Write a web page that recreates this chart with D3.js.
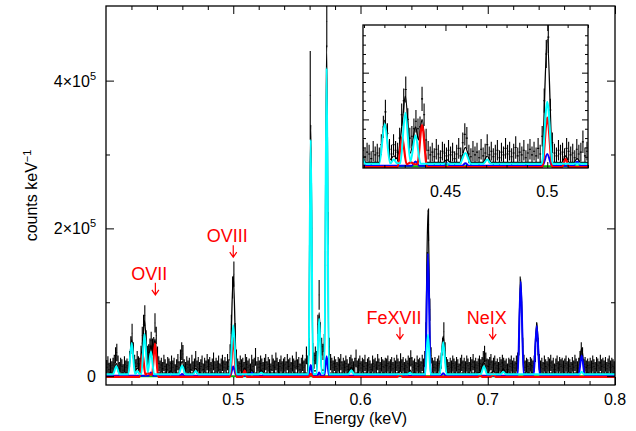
<!DOCTYPE html>
<html>
<head>
<meta charset="utf-8">
<script src="https://cdnjs.cloudflare.com/ajax/libs/d3/7.8.5/d3.min.js"></script>
<style>
  body { margin: 0; background: #fff; }
  svg { display: block; font-family: "Liberation Sans", Arial, sans-serif; }
</style>
</head>
<body>
<div id="chart"></div>
<script>
// observed spectrum: 0.001 keV bins from 0.400 keV, values in 1e3 counts/keV
const binStart = 0.400;
const binWidth = 0.001;
const obsCounts = [
  12, 16, 9, 14, 11, 15, 18, 28, 32, 17, 10, 15, 13, 8, 16, 12, 14, 11, 23, 42,
  58, 35, 18, 13, 23, 17, 15, 30, 55, 70, 82, 50, 30, 32, 40, 48, 40, 42, 72, 55,
  28, 17, 12, 15, 10, 18, 13, 9, 16, 14, 11, 17, 12, 15, 8, 13, 19, 11, 25, 34,
  30, 13, 10, 16, 12, 15, 9, 18, 11, 14, 23, 12, 16, 10, 13, 17, 9, 15, 12, 19,
  13, 16, 10, 14, 20, 11, 15, 12, 17, 9, 14, 18, 12, 16, 11, 19, 13, 32, 70, 120,
  138, 60, 25, 14, 11, 17, 13, 15, 10, 19, 16, 12, 14, 9, 18, 13, 15, 26, 11, 16,
  12, 17, 14, 10, 15, 19, 11, 16, 13, 9, 18, 14, 12, 20, 15, 10, 13, 17, 11, 14,
  16, 11, 19, 13, 15, 10, 17, 14, 12, 21, 13, 16, 9, 15, 18, 12, 14, 28, 17, 40,
  380, 200, 33, 21, 28, 23, 70, 110, 60, 40, 33, 45, 150, 480, 200, 40, 19, 15, 12, 17,
  13, 10, 16, 14, 19, 11, 15, 12, 17, 13, 9, 16, 18, 14, 11, 15, 24, 12, 14, 17,
  11, 15, 13, 18, 10, 14, 16, 12, 9, 17, 13, 15, 11, 19, 14, 10, 16, 13, 12, 15,
  14, 17, 11, 13, 16, 10, 15, 12, 18, 14, 11, 19, 13, 16, 10, 14, 12, 17, 15, 24,
  16, 12, 14, 10, 17, 13, 15, 11, 18, 14, 23, 60, 150, 205, 90, 28, 15, 12, 16, 11,
  14, 17, 12, 21, 40, 60, 35, 16, 13, 10, 15, 12, 17, 14, 11, 16, 13, 9, 15, 18,
  12, 15, 11, 17, 14, 10, 16, 13, 19, 12, 15, 11, 14, 17, 13, 16, 23, 30, 21, 14,
  13, 16, 19, 12, 15, 17, 11, 14, 10, 16, 13, 18, 15, 12, 14, 9, 15, 13, 17, 12,
  15, 11, 17, 21, 40, 118, 100, 40, 18, 12, 15, 13, 10, 16, 14, 12, 17, 30, 60, 40,
  19, 12, 15, 10, 17, 13, 11, 16, 14, 18, 12, 15, 9, 14, 17, 11, 16, 13, 15, 12,
  14, 17, 11, 15, 13, 10, 16, 12, 18, 14, 11, 15, 23, 35, 28, 13, 16, 12, 14, 11,
  15, 12, 17, 13, 10, 16, 14, 11, 18, 13, 15, 12, 16, 10, 14, 17, 12, 15, 13, 11
];
const obsErr = [
  10, 11, 9, 10, 9, 10, 11, 11, 12, 11, 9, 10, 10, 8, 11, 9, 10, 9, 11, 12,
  13, 11, 11, 10, 11, 10, 10, 11, 12, 13, 14, 12, 11, 11, 11, 12, 11, 11, 13, 12,
  12, 10, 9, 10, 9, 11, 10, 8, 10, 10, 9, 11, 9, 10, 8, 10, 11, 9, 11, 12,
  12, 10, 9, 11, 9, 10, 8, 11, 9, 10, 11, 9, 10, 9, 10, 11, 8, 10, 9, 11,
  10, 10, 9, 10, 12, 9, 10, 9, 11, 8, 10, 11, 9, 10, 9, 11, 10, 11, 13, 15,
  17, 12, 11, 10, 9, 11, 10, 10, 9, 11, 10, 9, 10, 8, 11, 10, 10, 12, 9, 10,
  9, 11, 10, 9, 10, 11, 9, 10, 10, 8, 11, 10, 9, 12, 10, 9, 10, 11, 9, 10,
  10, 9, 11, 10, 10, 9, 11, 10, 9, 12, 10, 10, 8, 10, 11, 9, 10, 12, 11, 12,
  60, 25, 12, 11, 12, 11, 13, 20, 13, 12, 11, 12, 20, 35, 22, 12, 11, 10, 9, 10,
  10, 9, 10, 10, 11, 9, 10, 9, 11, 10, 8, 10, 11, 10, 9, 10, 12, 9, 10, 11,
  9, 10, 10, 11, 9, 10, 10, 9, 8, 11, 10, 10, 9, 11, 10, 9, 10, 10, 9, 10,
  10, 11, 9, 10, 10, 9, 10, 9, 11, 10, 9, 12, 10, 10, 9, 10, 9, 11, 10, 11,
  10, 9, 10, 9, 11, 10, 10, 9, 11, 10, 11, 13, 18, 22, 15, 11, 10, 9, 10, 9,
  10, 11, 9, 11, 12, 13, 11, 10, 10, 9, 10, 9, 11, 10, 9, 10, 10, 8, 10, 11,
  9, 10, 9, 11, 10, 9, 10, 10, 11, 9, 10, 9, 10, 11, 10, 10, 11, 11, 11, 10,
  10, 10, 11, 9, 10, 11, 9, 10, 9, 10, 10, 11, 10, 9, 10, 8, 10, 10, 11, 9,
  10, 9, 11, 11, 12, 17, 15, 12, 11, 9, 10, 10, 9, 10, 10, 9, 11, 11, 13, 12,
  11, 9, 10, 9, 11, 10, 9, 10, 10, 11, 9, 10, 8, 10, 11, 9, 10, 10, 10, 9,
  10, 11, 9, 10, 10, 9, 10, 9, 11, 10, 9, 10, 11, 11, 11, 10, 10, 9, 10, 9,
  10, 9, 11, 10, 9, 10, 10, 9, 11, 10, 10, 9, 10, 9, 10, 11, 9, 10, 10, 9
];

// model components [energy keV, 1e3 counts/keV]
const modelTotal = [
  [0.400, 4], [0.4055, 4], [0.4081, 17], [0.4107, 4], [0.4175, 4], [0.4202, 49], [0.4228, 7],
  [0.4247, 11], [0.4262, 8], [0.4287, 45], [0.4303, 75], [0.4328, 14], [0.4353, 42], [0.4368, 28],
  [0.4385, 50], [0.4410, 4], [0.4490, 4], [0.4507, 7], [0.4524, 4], [0.4570, 4], [0.4598, 20],
  [0.4625, 4], [0.4685, 4], [0.4705, 11], [0.4725, 4], [0.4973, 4], [0.5000, 136], [0.5027, 4],
  [0.5072, 4], [0.5090, 11], [0.5108, 4], [0.5130, 4], [0.5147, 8], [0.5164, 4], [0.5200, 4],
  [0.5220, 8], [0.5240, 4], [0.5591, 4], [0.5609, 340], [0.5627, 7], [0.5655, 7], [0.5675, 86],
  [0.5695, 8], [0.5716, 8], [0.5734, 448], [0.5752, 4], [0.5905, 4], [0.5928, 12], [0.5951, 4],
  [0.6290, 4], [0.6310, 7], [0.6330, 4], [0.6372, 4], [0.6389, 8], [0.6406, 4], [0.6508, 4],
  [0.6530, 225], [0.6552, 4], [0.6623, 4], [0.6650, 54], [0.6677, 4], [0.6920, 4], [0.6940, 6],
  [0.6970, 19], [0.6995, 4], [0.7025, 4], [0.7044, 7], [0.7063, 4], [0.7102, 4], [0.7122, 10],
  [0.7142, 4], [0.7235, 4], [0.7259, 132], [0.7283, 4], [0.7360, 4], [0.7385, 72], [0.7410, 4],
  [0.7713, 4], [0.7738, 38], [0.7763, 4], [0.800, 4]
];
const modelGreen = [[0.400, 0], [0.800, 0]];
const modelBlue = [
  [0.400, 0.5], [0.4335, 0.5], [0.4353, 5], [0.4371, 0.5], [0.4490, 0.5], [0.4507, 3], [0.4524, 0.5],
  [0.4582, 0.5], [0.4598, 3], [0.4614, 0.5], [0.4977, 0.5], [0.5000, 13], [0.5023, 0.5],
  [0.5130, 0.5], [0.5147, 4.6], [0.5164, 0.5], [0.5591, 0.5], [0.5609, 15], [0.5627, 0.5],
  [0.5660, 0.5], [0.5675, 5], [0.5690, 0.5], [0.5716, 0.5], [0.5734, 27], [0.5752, 0.5],
  [0.6508, 0.5], [0.6530, 166], [0.6552, 0.5], [0.6630, 0.5], [0.6650, 4], [0.6670, 0.5],
  [0.7235, 0.5], [0.7259, 128], [0.7283, 0.5], [0.7360, 0.5], [0.7385, 68], [0.7410, 0.5],
  [0.7713, 0.5], [0.7738, 28], [0.7763, 0.5], [0.800, 0.5]
];
const modelRed = [
  [0.400, -1], [0.4265, -1], [0.4287, 31], [0.4309, 2], [0.4330, 4], [0.4350, 2], [0.4362, 2],
  [0.4385, 44], [0.4410, -1], [0.4975, -1], [0.5000, 52], [0.5025, -1], [0.5072, -1], [0.5090, 7.5],
  [0.5108, -1], [0.5592, -1], [0.5610, 3], [0.5628, -1], [0.6290, -1], [0.6310, 3], [0.6330, -1],
  [0.6925, -1], [0.6940, 2], [0.6955, -1], [0.7025, -1], [0.7044, 3], [0.7063, -1], [0.800, -1]
];
const modelCyan = [
  [0.400, 2.5], [0.4055, 2.5], [0.4081, 13.5], [0.4107, 2.5], [0.4175, 2.5], [0.4202, 45], [0.4228, 3],
  [0.4247, 7], [0.4262, 3], [0.4278, 3], [0.4303, 57], [0.4328, 5], [0.4353, 33], [0.4378, 2.5],
  [0.4570, 2.5], [0.4598, 14], [0.4625, 2.5], [0.4685, 2.5], [0.4705, 7], [0.4725, 2.5], [0.4973, 2.5],
  [0.5000, 69], [0.5027, 2.5], [0.5200, 2.5], [0.5220, 4.5], [0.5240, 2.5], [0.5591, 2.5], [0.5609, 320],
  [0.5627, 3], [0.5655, 3], [0.5675, 78], [0.5695, 4], [0.5716, 4], [0.5734, 417], [0.5752, 2.5],
  [0.5905, 2.5], [0.5928, 8], [0.5951, 2.5], [0.6372, 2.5], [0.6389, 4.5], [0.6406, 2.5], [0.6508, 2.5],
  [0.6530, 56], [0.6552, 2.5], [0.6623, 2.5], [0.6650, 46], [0.6677, 2.5], [0.6945, 2.5], [0.6970, 13.5],
  [0.6995, 2.5], [0.7102, 2.5], [0.7122, 6], [0.7142, 2.5], [0.7720, 2.5], [0.7738, 6], [0.7756, 2.5],
  [0.800, 2.5]
];

// line identifications
const lineLabels = ["OVII", "OVIII", "FeXVII", "NeIX"];
const lineEnergies = [0.4388, 0.5000, 0.6310, 0.7039];
const lineArrowTips = [110, 161, 50, 50];

// ticks
const xMajorTicks = [0.5, 0.6, 0.7, 0.8];
const xMinorTicks = [0.42, 0.44, 0.46, 0.48, 0.52, 0.54, 0.56, 0.58, 0.62, 0.64, 0.66, 0.68, 0.72, 0.74, 0.76, 0.78];
const yMajorTicks = [0, 200, 400];
const yMinorTicks = [100, 300];
const yTickLabels = [["0", ""], ["2×10", "5"], ["4×10", "5"]];
const insetXMajorTicks = [0.45, 0.5];
const insetXMinorTicks = [0.41, 0.42, 0.43, 0.44, 0.46, 0.47, 0.48, 0.49, 0.51, 0.52];
const insetYMajorTicks = [50, 100];
const insetYMinorTicks = [10, 20, 30, 40, 60, 70, 80, 90, 110, 120, 130, 140];

const svg = d3.select("#chart").append("svg")
  .attr("width", 636)
  .attr("height", 431);

const mainBox = { left: 106, right: 615, top: 6, bottom: 385 };
const insetBox = { left: 363, right: 588, top: 25, bottom: 168 };

const x = d3.scaleLinear().domain([0.4, 0.8]).range([mainBox.left, mainBox.right]);
const y = d3.scaleLinear().domain([-12, 501]).range([mainBox.bottom, mainBox.top]);
const xi = d3.scaleLinear().domain([0.4095, 0.5200]).range([insetBox.left, insetBox.right]);
const yi = d3.scaleLinear().domain([-2, 151]).range([insetBox.bottom, insetBox.top]);

const defs = svg.append("defs");
[["clipMain", mainBox], ["clipInset", insetBox]].forEach(([id, b]) => {
  defs.append("clipPath").attr("id", id).append("rect")
    .attr("x", b.left).attr("y", b.top)
    .attr("width", b.right - b.left).attr("height", b.bottom - b.top);
});

// data error bars + model curves
function drawSpectrum(g, xs, ys, clipId) {
  const layer = g.append("g").attr("clip-path", `url(#${clipId})`);
  let d = "";
  obsCounts.forEach((v, i) => {
    const e0 = binStart + i * binWidth;
    const e1 = e0 + binWidth;
    const ec = e0 + binWidth / 2;
    d += `M${xs(e0)},${ys(v)}H${xs(e1)}M${xs(ec)},${ys(v - obsErr[i])}V${ys(v + obsErr[i])}`;
  });
  layer.append("path")
    .attr("d", d)
    .attr("fill", "none")
    .attr("stroke", "#000")
    .attr("stroke-width", 1.1);

  const line = d3.line()
    .x(p => xs(p[0]))
    .y(p => ys(p[1]))
    .curve(d3.curveMonotoneX);

  const comps = [
    [modelTotal, "#000", 1.3],
    [modelGreen, "#00c000", 2],
    [modelBlue, "#0000ff", 2],
    [modelRed, "#ff0000", 2.2],
    [modelCyan, "#00ffff", 2]
  ];
  comps.forEach(([pts, color, w]) => {
    layer.append("path")
      .datum(pts)
      .attr("d", line)
      .attr("fill", "none")
      .attr("stroke", color)
      .attr("stroke-width", w)
      .attr("stroke-linejoin", "round");
  });
}

// mirrored inward ticks on all four sides
function drawTicks(g, xs, ys, box, xMaj, xMin, yMaj, yMin, lMaj, lMin) {
  const sets = [
    [d3.axisBottom(xs), `translate(0,${box.bottom})`, xMaj, lMaj],
    [d3.axisBottom(xs), `translate(0,${box.bottom})`, xMin, lMin],
    [d3.axisTop(xs), `translate(0,${box.top})`, xMaj, lMaj],
    [d3.axisTop(xs), `translate(0,${box.top})`, xMin, lMin],
    [d3.axisLeft(ys), `translate(${box.left},0)`, yMaj, lMaj],
    [d3.axisLeft(ys), `translate(${box.left},0)`, yMin, lMin],
    [d3.axisRight(ys), `translate(${box.right},0)`, yMaj, lMaj],
    [d3.axisRight(ys), `translate(${box.right},0)`, yMin, lMin]
  ];
  sets.forEach(([axis, tr, vals, len]) => {
    const a = g.append("g")
      .attr("transform", tr)
      .call(axis.tickValues(vals).tickSize(-len).tickFormat(""));
    a.select(".domain").remove();
    a.selectAll("line").attr("stroke", "#000").attr("stroke-width", 1);
  });
}

function drawTickLabels(g, xs, box, vals, pad, fmt) {
  g.selectAll(null)
    .data(vals)
    .enter().append("text")
    .attr("x", d => xs(d))
    .attr("y", box.bottom + pad + 11.5)
    .attr("text-anchor", "middle")
    .attr("font-size", 16)
    .text(fmt);
}

// ---- main panel ----
const mainG = svg.append("g");
drawSpectrum(mainG, x, y, "clipMain");
drawTicks(mainG, x, y, mainBox, xMajorTicks, xMinorTicks, yMajorTicks, yMinorTicks, 8, 4);
drawTickLabels(mainG, x, mainBox, xMajorTicks, 8, d3.format(".1f"));

yMajorTicks.forEach((v, i) => {
  const t = mainG.append("text")
    .attr("x", mainBox.left - 10)
    .attr("y", y(v) + 6)
    .attr("text-anchor", "end")
    .attr("font-size", 16)
    .text(yTickLabels[i][0]);
  if (yTickLabels[i][1]) {
    t.append("tspan")
      .attr("dy", -7)
      .attr("font-size", 11)
      .text(yTickLabels[i][1]);
  }
});

mainG.append("rect")
  .attr("x", mainBox.left).attr("y", mainBox.top)
  .attr("width", mainBox.right - mainBox.left)
  .attr("height", mainBox.bottom - mainBox.top)
  .attr("fill", "none")
  .attr("stroke", "#000")
  .attr("stroke-width", 1.3);

// axis titles
svg.append("text")
  .attr("x", (mainBox.left + mainBox.right) / 2)
  .attr("y", 424)
  .attr("text-anchor", "middle")
  .attr("font-size", 16)
  .text("Energy (keV)");

const yTitle = svg.append("text")
  .attr("transform", `translate(37,${(mainBox.top + mainBox.bottom) / 2}) rotate(-90)`)
  .attr("text-anchor", "middle")
  .attr("font-size", 16)
  .text("counts keV");
yTitle.append("tspan").attr("dy", -6).attr("font-size", 11).text("−1");

// line identifications
lineLabels.forEach((name, i) => {
  const ax = x(lineEnergies[i]);
  const tip = y(lineArrowTips[i]);
  svg.append("text")
    .attr("x", ax - 6)
    .attr("y", tip - 15)
    .attr("text-anchor", "middle")
    .attr("font-size", 18)
    .attr("fill", "#ff0000")
    .text(name);
  svg.append("path")
    .attr("d", `M${ax},${tip - 12}V${tip}M${ax - 3.5},${tip - 5}L${ax},${tip}L${ax + 3.5},${tip - 5}`)
    .attr("fill", "none")
    .attr("stroke", "#ff0000")
    .attr("stroke-width", 1.2);
});

// ---- inset panel ----
const insetG = svg.append("g");
insetG.append("rect")
  .attr("x", insetBox.left).attr("y", insetBox.top)
  .attr("width", insetBox.right - insetBox.left)
  .attr("height", insetBox.bottom - insetBox.top)
  .attr("fill", "#fff");
drawSpectrum(insetG, xi, yi, "clipInset");
drawTicks(insetG, xi, yi, insetBox, insetXMajorTicks, insetXMinorTicks, insetYMajorTicks, insetYMinorTicks, 6, 3);
drawTickLabels(insetG, xi, insetBox, insetXMajorTicks, 17, d => String(d));
insetG.append("rect")
  .attr("x", insetBox.left).attr("y", insetBox.top)
  .attr("width", insetBox.right - insetBox.left)
  .attr("height", insetBox.bottom - insetBox.top)
  .attr("fill", "none")
  .attr("stroke", "#000")
  .attr("stroke-width", 1.3);
</script>
</body>
</html>
